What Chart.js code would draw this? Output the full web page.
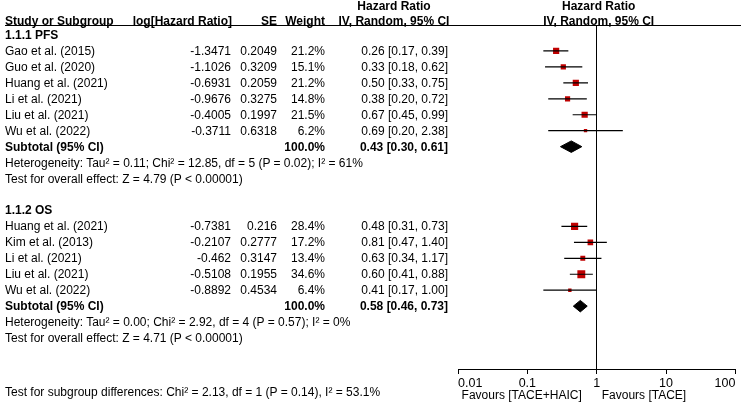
<!DOCTYPE html>
<html>
<head>
<meta charset="utf-8">
<script src="https://cdn.jsdelivr.net/npm/chart.js@4.4.1/dist/chart.umd.min.js"></script>
<style>
html, body { margin: 0; padding: 0; background: #fff; }
#wrap { position: relative; width: 741px; height: 404px; overflow: hidden; font-family: "Liberation Sans", Arial, sans-serif; font-size: 12px; color: #000; }
#wrap canvas { position: absolute; left: 0; top: 0; }
.t { position: absolute; white-space: nowrap; line-height: 14px; }
.b { font-weight: bold; }
#rule { position: absolute; left: 5px; right: 0; top: 25px; height: 0; border-top: 1px solid #000; }
</style>
</head>
<body>
<div id="wrap"><canvas id="grafica" width="741" height="404"></canvas><div id="rule"></div></div>
<script>
// 1.1.1 PFS
const pfsStudies = ["Gao et al. (2015)", "Guo et al. (2020)", "Huang et al. (2021)", "Li et al. (2021)", "Liu et al. (2021)", "Wu et al. (2022)"]
const pfsLogHR = [-1.3471, -1.1026, -0.6931, -0.9676, -0.4005, -0.3711]
const pfsSE = [0.2049, 0.3209, 0.2059, 0.3275, 0.1997, 0.6318]
const pfsWeight = [21.2, 15.1, 21.2, 14.8, 21.5, 6.2]
const pfsHR = [0.26, 0.33, 0.50, 0.38, 0.67, 0.69]
const pfsLow = [0.17, 0.18, 0.33, 0.20, 0.45, 0.20]
const pfsHigh = [0.39, 0.62, 0.75, 0.72, 0.99, 2.38]
const pfsTotal = [0.43, 0.30, 0.61]
const pfsHetero = "Heterogeneity: Tau² = 0.11; Chi² = 12.85, df = 5 (P = 0.02); I² = 61%"
const pfsEffect = "Test for overall effect: Z = 4.79 (P < 0.00001)"

// 1.1.2 OS
const osStudies = ["Huang et al. (2021)", "Kim et al. (2013)", "Li et al. (2021)", "Liu et al. (2021)", "Wu et al. (2022)"]
const osLogHR = [-0.7381, -0.2107, -0.462, -0.5108, -0.8892]
const osSE = [0.216, 0.2777, 0.3147, 0.1955, 0.4534]
const osWeight = [28.4, 17.2, 13.4, 34.6, 6.4]
const osHR = [0.48, 0.81, 0.63, 0.60, 0.41]
const osLow = [0.31, 0.47, 0.34, 0.41, 0.17]
const osHigh = [0.73, 1.40, 1.17, 0.88, 1.00]
const osTotal = [0.58, 0.46, 0.73]
const osHetero = "Heterogeneity: Tau² = 0.00; Chi² = 2.92, df = 4 (P = 0.57); I² = 0%"
const osEffect = "Test for overall effect: Z = 4.71 (P < 0.00001)"

const subgroupTest = "Test for subgroup differences: Chi² = 2.13, df = 1 (P = 0.14), I² = 53.1%"
const tickValues = [0.01, 0.1, 1, 10, 100]

const groups = [
    { title: "1.1.1 PFS", start: 0, studies: pfsStudies, logHR: pfsLogHR, se: pfsSE, weight: pfsWeight, hr: pfsHR, low: pfsLow, high: pfsHigh, total: pfsTotal, hetero: pfsHetero, effect: pfsEffect },
    { title: "1.1.2 OS", start: 11, studies: osStudies, logHR: osLogHR, se: osSE, weight: osWeight, hr: osHR, low: osLow, high: osHigh, total: osTotal, hetero: osHetero, effect: osEffect }
]

const fmt = (a, b, c) => `${a.toFixed(2)} [${b.toFixed(2)}, ${c.toFixed(2)}]`

const datasets = []
groups.forEach(g => {
    g.hr.forEach((v, i) => {
        const row = g.start + 1 + i
        datasets.push({
            data: [{ x: g.low[i], y: row }, { x: g.high[i], y: row }],
            showLine: true, borderColor: "#000", borderWidth: 1.2, pointRadius: 0
        })
    })
    datasets.push({
        data: g.hr.map((v, i) => ({ x: v, y: g.start + 1 + i })),
        pointStyle: "rect",
        pointRadius: g.weight.map(w => Math.sqrt(w) * 0.95),
        backgroundColor: "#c00000", borderWidth: 0
    })
    const r = g.start + 1 + g.hr.length
    const [est, lo, hi] = g.total
    datasets.push({
        data: [{ x: lo, y: r }, { x: est, y: r - 0.36 }, { x: hi, y: r }, { x: est, y: r + 0.36 }, { x: lo, y: r }],
        showLine: true, fill: "shape", tension: 0,
        borderColor: "#000", backgroundColor: "#000", borderWidth: 1, pointRadius: 0
    })
})

const canvas = document.querySelector("#grafica")
const chart = new Chart(canvas, {
    type: "scatter",
    data: { datasets: datasets },
    options: {
        responsive: false,
        animation: false,
        layout: { padding: { left: 458, right: 3, top: 26, bottom: 0 } },
        plugins: { legend: { display: false }, tooltip: { enabled: false } },
        scales: {
            x: {
                type: "logarithmic",
                min: 0.01,
                max: 100,
                afterBuildTicks: s => { s.ticks = tickValues.map(v => ({ value: v })) },
                afterFit: s => { s.height = 35 },
                ticks: {
                    align: "inner", autoSkip: false, maxRotation: 0, padding: 2,
                    color: "#000",
                    font: { family: "Liberation Sans", size: 12.5 },
                    callback: v => String(v)
                },
                grid: {
                    color: c => (c.tick && c.tick.value === 1) ? "#000" : "rgba(0,0,0,0)",
                    tickColor: "#000", tickLength: 5, lineWidth: 1
                },
                border: { color: "#000", width: 1 }
            },
            y: { type: "linear", min: -0.564, max: 20.94, reverse: true, display: false }
        }
    }
})

// table text
const wrap = document.querySelector("#wrap")
const yPix = k => chart.scales.y.getPixelForValue(k)
const addText = (txt, k, x, align, bold) => {
    const d = document.createElement("div")
    d.className = "t" + (bold ? " b" : "")
    d.textContent = txt
    d.style.top = (yPix(k) - 7) + "px"
    if (align === "right") d.style.right = (741 - x) + "px"
    else if (align === "center") { d.style.left = x + "px"; d.style.transform = "translateX(-50%)" }
    else d.style.left = x + "px"
    wrap.appendChild(d)
}

const xOne = chart.scales.x.getPixelForValue(1)
addText("Study or Subgroup", -0.88, 5, "left", true)
addText("log[Hazard Ratio]", -0.88, 232, "right", true)
addText("SE", -0.88, 277, "right", true)
addText("Weight", -0.88, 325, "right", true)
addText("Hazard Ratio", -1.82, 394, "center", true)
addText("IV, Random, 95% CI", -0.88, 394, "center", true)
addText("Hazard Ratio", -1.82, xOne + 2, "center", true)
addText("IV, Random, 95% CI", -0.88, xOne + 2, "center", true)

groups.forEach(g => {
    addText(g.title, g.start, 5, "left", true)
    g.studies.forEach((s, i) => {
        const k = g.start + 1 + i
        addText(s, k, 5, "left", false)
        addText(String(g.logHR[i]), k, 231, "right", false)
        addText(String(g.se[i]), k, 277, "right", false)
        addText(g.weight[i].toFixed(1) + "%", k, 325, "right", false)
        addText(fmt(g.hr[i], g.low[i], g.high[i]), k, 448, "right", false)
    })
    const k = g.start + 1 + g.studies.length
    addText("Subtotal (95% CI)", k, 5, "left", true)
    addText("100.0%", k, 325, "right", true)
    addText(fmt(g.total[0], g.total[1], g.total[2]), k, 448, "right", true)
    addText(g.hetero, k + 1, 5, "left", false)
    addText(g.effect, k + 2, 5, "left", false)
})

addText(subgroupTest, 22.38, 5, "left", false)
addText("Favours [TACE+HAIC]", 22.57, xOne - 15, "right", false)
addText("Favours [TACE]", 22.57, xOne + 5, "left", false)
</script>
</body>
</html>
